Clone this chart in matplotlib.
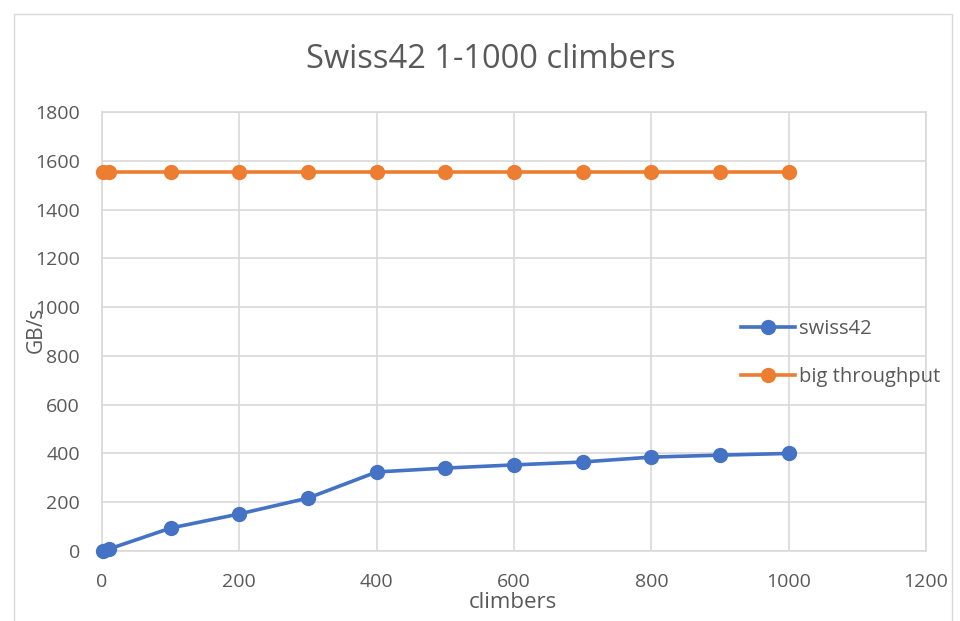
import matplotlib.pyplot as plt
from matplotlib.patches import Rectangle

climbers = [1, 10, 100, 200, 300, 400, 500, 600, 700, 800, 900, 1000]
swiss42 = [1, 8, 94, 152, 217, 324, 340, 353, 365, 385, 393, 400]
big_throughput = [1555] * len(climbers)

TEXT = '#595959'
GRID = '#d9d9d9'

plt.rcParams['font.family'] = ['Open Sans', 'DejaVu Sans']

fig = plt.figure(figsize=(9.6, 6.21), dpi=100)
ax = fig.add_axes([102 / 960, 1 - 551 / 621, (926 - 102) / 960, (551 - 112) / 621])

ax.plot(climbers, swiss42, color='#4472c4', marker='o', markersize=10,
        linewidth=2.6, label='swiss42', zorder=3, clip_on=False)
ax.plot(climbers, big_throughput, color='#ed7d31', marker='o', markersize=10,
        linewidth=2.6, label='big throughput', zorder=3, clip_on=False)

ax.set_xlim(0, 1200)
ax.set_ylim(0, 1800)
ax.set_xticks(range(0, 1201, 200))
ax.set_yticks(range(0, 1801, 200))
ax.grid(True, color=GRID, linewidth=1.2)
for s in ax.spines.values():
    s.set_color(GRID)
    s.set_linewidth(1.2)
ax.tick_params(length=0, labelsize=14, colors=TEXT, pad=16)
ax.set_axisbelow(True)

fig.text(491 / 960, 1 - 60 / 621, 'Swiss42 1-1000 climbers', ha='center', va='center',
         fontsize=23.5, color=TEXT)
# the reference has the y label sitting on top of the tick labels
fig.text(36 / 960, 1 - 330 / 621, 'GB/s', rotation=90, ha='center', va='center',
         fontsize=15, color=TEXT)
fig.text(513 / 960, 1 - 602 / 621, 'climbers', ha='center', va='center',
         fontsize=16, color=TEXT)

leg = ax.legend(loc='center left', bbox_to_anchor=(731 / 960, 1 - 353 / 621),
                bbox_transform=fig.transFigure, frameon=False, fontsize=14.5,
                labelcolor=TEXT, handlelength=2.7, handletextpad=0.2, labelspacing=1.4,
                borderpad=0)

fig.patches.append(Rectangle((14 / 960, -0.05), 938 / 960, 1.05 - 14 / 621,
                             transform=fig.transFigure, fill=False,
                             edgecolor=GRID, linewidth=1))

fig.savefig('out.png', dpi=100)
